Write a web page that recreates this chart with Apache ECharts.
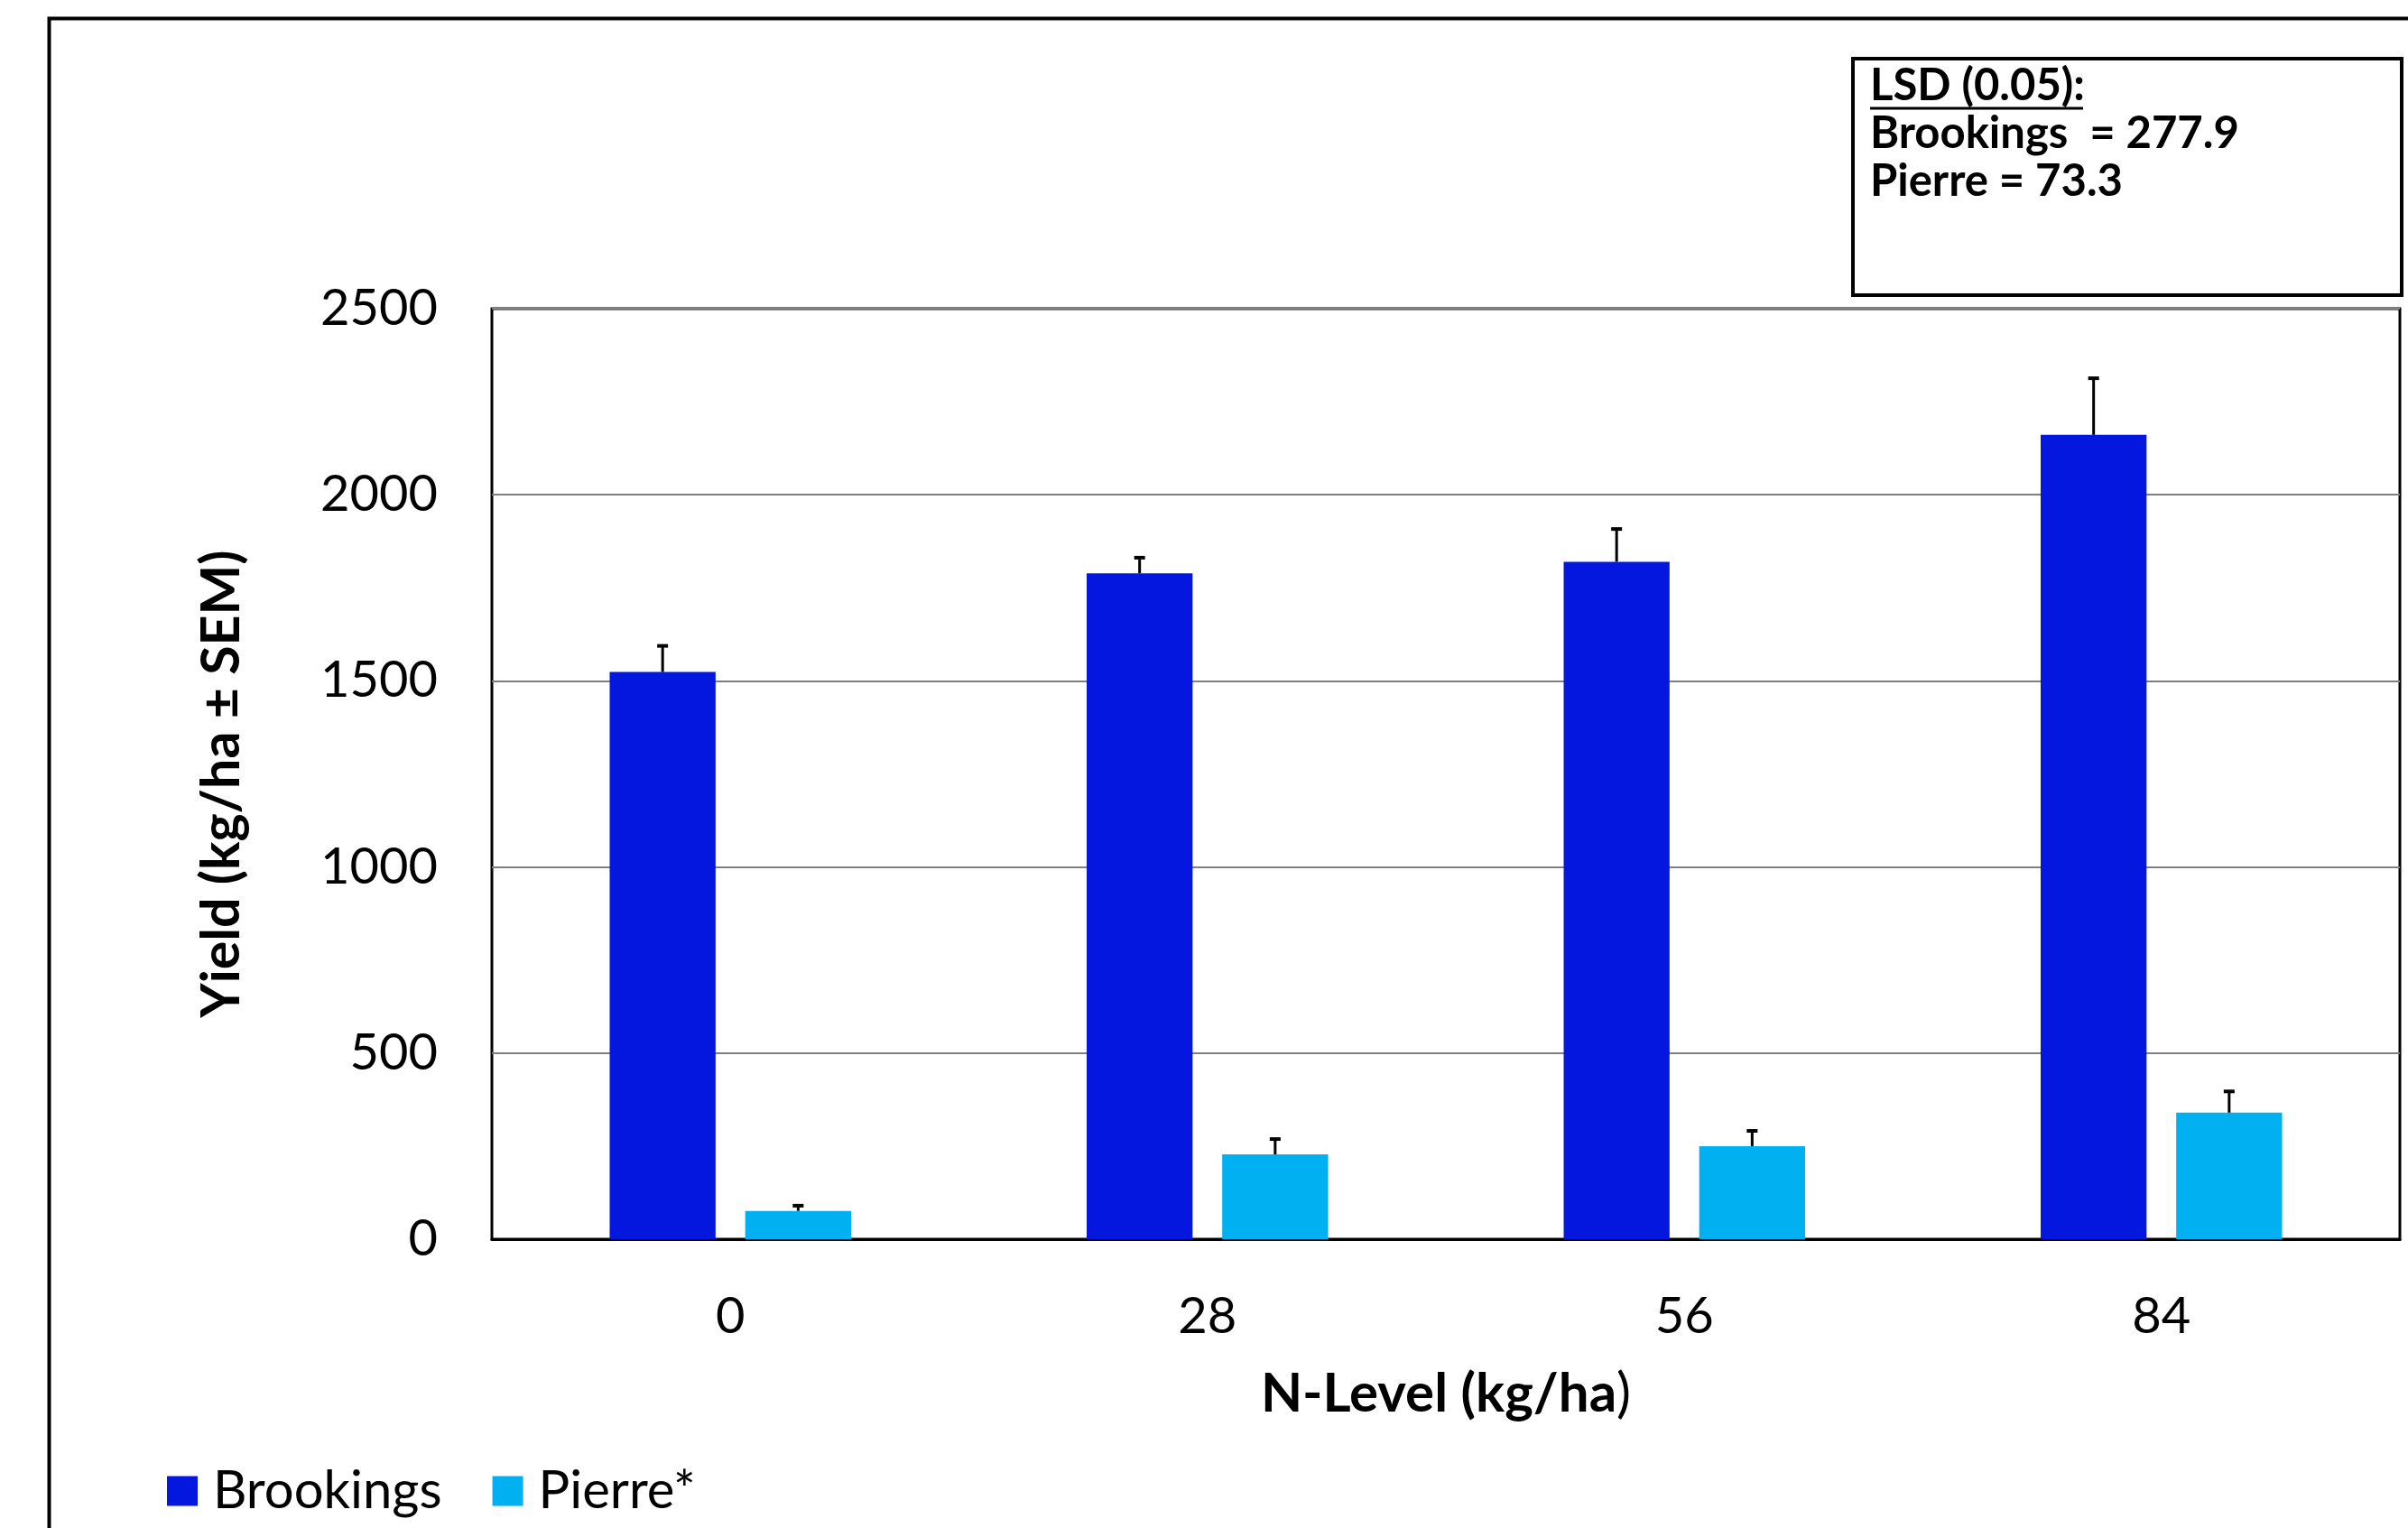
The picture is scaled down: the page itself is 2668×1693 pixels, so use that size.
<!DOCTYPE html>
<html>
<head>
<meta charset="utf-8">
<script src="https://cdn.jsdelivr.net/npm/echarts@6/dist/echarts.min.js"></script>
<style>
html,body{margin:0;padding:0;background:#fff;}
#chart{width:2668px;height:1693px;}
</style>
</head>
<body>
<div id="chart"></div>
<script>
const categories = ['0', '28', '56', '84'];
const brookings = [1524, 1789, 1820, 2161];
const brookingsSEM = [70, 42, 88, 152];
const pierre = [76, 228, 250, 340];
const pierreSEM = [14, 41, 41, 57];
const yTicks = [0, 500, 1000, 1500, 2000, 2500];
const lsdLines = ['LSD (0.05):', 'Brookings  = 277.9', 'Pierre = 73.3'];

const FONT = 'Lato, "Open Sans", sans-serif';
const BAR_W = 0.222;
const BAR_GAP = 0.28;

function errorSeries(name, vals, sems, side) {
  return {
    type: 'custom',
    name: name + ' SEM',
    silent: true,
    z: 5,
    data: vals.map((v, i) => [i, v, v + sems[i]]),
    renderItem: function (params, api) {
      const band = api.size([1, 0])[0];
      const bw = band * BAR_W;
      const off = side * (bw * (1 + BAR_GAP)) / 2;
      const base = api.coord([api.value(0), api.value(1)]);
      const top = api.coord([api.value(0), api.value(2)]);
      const x = base[0] + off;
      const cap = 6;
      return {
        type: 'group',
        children: [
          { type: 'line', shape: { x1: x, y1: base[1], x2: x, y2: top[1] }, style: { stroke: '#000', lineWidth: 3 } },
          { type: 'line', shape: { x1: x - cap, y1: top[1], x2: x + cap, y2: top[1] }, style: { stroke: '#000', lineWidth: 4 } }
        ]
      };
    }
  };
}

const chart = echarts.init(document.getElementById('chart'));
chart.setOption({
  backgroundColor: '#fff',
  animation: false,
  textStyle: { fontFamily: FONT },
  grid: { left: 545, right: 9, top: 342, bottom: 320, show: true, borderColor: '#000', borderWidth: 3, containLabel: false },
  legend: {
    left: 180, top: 1618,
    itemWidth: 34, itemHeight: 33, itemGap: 56,
    icon: 'rect',
    textStyle: { fontFamily: FONT, fontSize: 58, color: '#000', padding: [0, 0, 0, 12] },
    data: ['Brookings', 'Pierre*']
  },
  xAxis: {
    type: 'category',
    data: categories,
    axisTick: { show: false },
    axisLine: { show: true, lineStyle: { color: '#000', width: 3 } },
    axisLabel: { fontFamily: FONT, fontSize: 56, color: '#000', margin: 58 },
    name: '{b|N-Level (kg/ha}{r|)}',
    nameLocation: 'middle',
    nameGap: 142,
    nameTextStyle: {
      rich: {
        b: { fontFamily: FONT, fontSize: 60, fontWeight: 'bold', color: '#000' },
        r: { fontFamily: FONT, fontSize: 60, fontWeight: 'normal', color: '#000' }
      }
    }
  },
  yAxis: {
    type: 'value',
    min: 0, max: 2500, interval: 500,
    axisLine: { show: false },
    axisTick: { show: false },
    splitLine: { show: true, lineStyle: { color: '#7f7f7f', width: 2 } },
    axisLabel: {
      fontFamily: FONT, fontSize: 56, color: '#000', margin: 60,
      formatter: v => (yTicks.indexOf(v) >= 0 ? String(v) : '')
    },
    name: 'Yield (kg/ha ± SEM)',
    nameLocation: 'middle',
    nameRotate: 90,
    nameGap: 270,
    nameTextStyle: { fontFamily: FONT, fontSize: 59, fontWeight: 'bold', color: '#000', padding: [0, 22, 0, 0] }
  },
  series: [
    { type: 'bar', name: 'Brookings', data: brookings, barWidth: (BAR_W * 100) + '%', barGap: (BAR_GAP * 100) + '%', itemStyle: { color: '#0417df' } },
    { type: 'bar', name: 'Pierre*', data: pierre, barWidth: (BAR_W * 100) + '%', itemStyle: { color: '#00b0f0' } },
    errorSeries('Brookings', brookings, brookingsSEM, -1),
    errorSeries('Pierre*', pierre, pierreSEM, 1)
  ],
  graphic: [
    { type: 'rect', left: 52, top: 18, silent: true, z: 0,
      shape: { width: 2700, height: 1760 }, style: { fill: 'none', stroke: '#000', lineWidth: 4 } },
    { type: 'rect', left: 2051, top: 63, silent: true, z: 10,
      shape: { width: 608, height: 262 }, style: { fill: '#fff', stroke: '#000', lineWidth: 4 } },
    { type: 'text', left: 2072, top: 71, z: 11,
      style: { text: lsdLines[0], font: 'bold 49px ' + FONT, fill: '#000' } },
    { type: 'line', z: 11, shape: { x1: 2072, y1: 120, x2: 2308, y2: 120 }, style: { stroke: '#000', lineWidth: 3 } },
    { type: 'text', left: 2072, top: 124, z: 11,
      style: { text: lsdLines[1], font: 'bold 49px ' + FONT, fill: '#000' } },
    { type: 'text', left: 2072, top: 177, z: 11,
      style: { text: lsdLines[2], font: 'bold 49px ' + FONT, fill: '#000' } }
  ]
});
</script>
</body>
</html>
